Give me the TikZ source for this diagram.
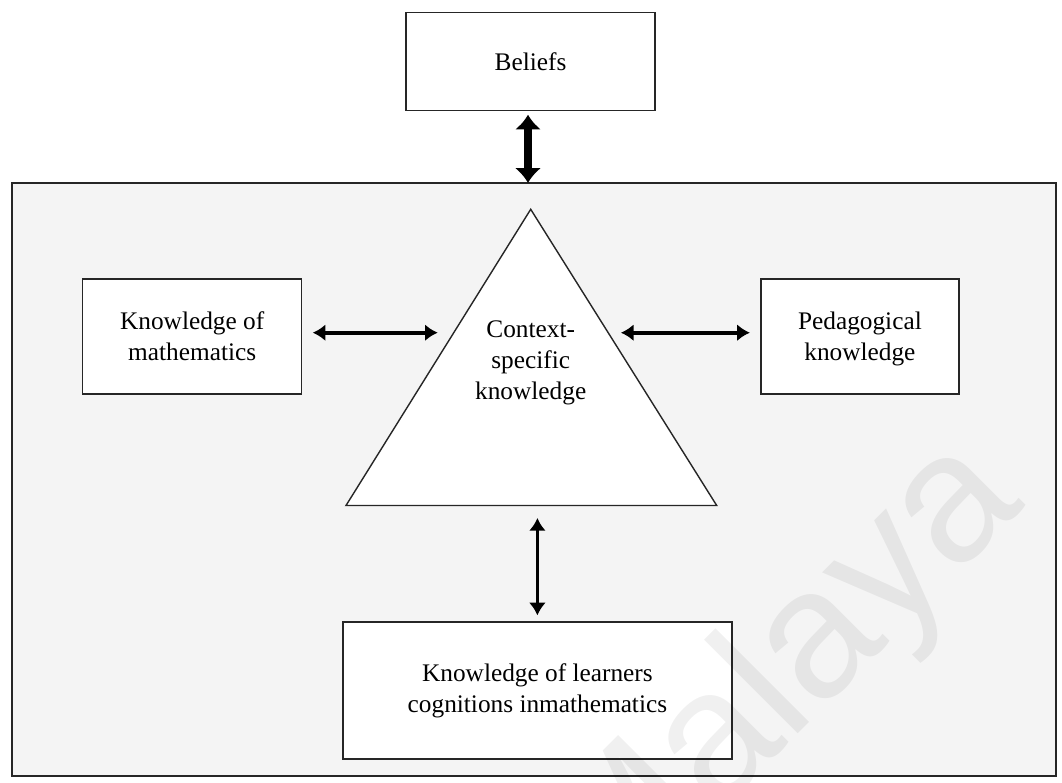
\documentclass[tikz,border=0pt]{standalone}
\usepackage{fontspec}
\setmainfont{Liberation Serif}
\newfontfamily\wmfont{Liberation Sans}
\usetikzlibrary{arrows.meta,calc}
\definecolor{panel}{HTML}{F4F4F4}
\definecolor{edge}{HTML}{262626}
\begin{document}
\begin{tikzpicture}[x=0.025cm,y=-0.025cm,
  labeltext/.style={font=\fontsize{18}{22}\selectfont,align=center},
  box/.style={labeltext,draw=edge,line width=1pt,fill=white,inner sep=0pt,outer sep=0pt},
  link/.style={line width=2.6pt,{Latex[length=9pt,width=12pt]}-{Latex[length=9pt,width=12pt]}},
  biglink/.style={line width=5pt,{Latex[length=10.5pt,width=19pt]}-{Latex[length=10.5pt,width=19pt]}}
]
\useasboundingbox (0,0) rectangle (1062,782);
\fill[white] (0,0) rectangle (1062,782);

% shaded frame around the knowledge components
\node[draw=edge,line width=1pt,fill=panel,inner sep=0pt,outer sep=0pt,
      minimum width=26.1cm,minimum height=14.825cm] (frame) at (534,479.5) {};

% boxes
\node[box,minimum width=6.225cm,minimum height=2.45cm] (beliefs) at (530.5,61.7) {Beliefs};
\node[box,minimum width=5.475cm,minimum height=2.875cm] (math) at (192.2,336.5) {Knowledge of\\mathematics};
\node[box,minimum width=4.95cm,minimum height=2.875cm] (ped) at (859.9,336.5) {\rule{0pt}{16pt}Pedagogical\\knowledge};
\node[box,minimum width=9.725cm,minimum height=3.425cm] (learn) at (537.4,690.4) {Knowledge of learners\\cognitions inmathematics};

% central triangle
\coordinate (apex) at (530.7,209.3);
\coordinate (bl) at (346,505.5);
\coordinate (br) at (716.7,505.5);
\draw[draw=edge,line width=1pt,fill=white] (apex) -- (br) -- (bl) -- cycle;
\node[labeltext,inner sep=0pt] (ctx) at (530.7,363) {Context-\\specific\\knowledge};

% connectors
\draw[biglink] ($(beliefs.south)+(-2.5,4)$) -- ($(beliefs.south |- frame.north)+(-2.5,0)$);
\draw[link] ($(math.east)+(11,-3.8)$) -- ($(math.east)+(136,-3.8)$);
\draw[link] ($(ped.west)+(-11,-3.8)$) -- ($(ped.west)+(-140,-3.8)$);
\draw[link] ($(learn.north |- bl)+(0,12.5)$) -- ($(learn.north)+(0,-6.5)$);

% watermark
\begin{scope}
  \clip (0,0) rectangle (1062,782);
  \node[rotate=45,text=black,opacity=0.06,font=\wmfont\fontsize{130}{130}\selectfont,inner sep=0pt]
    (wm) at (785,680) {Malaya};
\end{scope}
\end{tikzpicture}
\end{document}
